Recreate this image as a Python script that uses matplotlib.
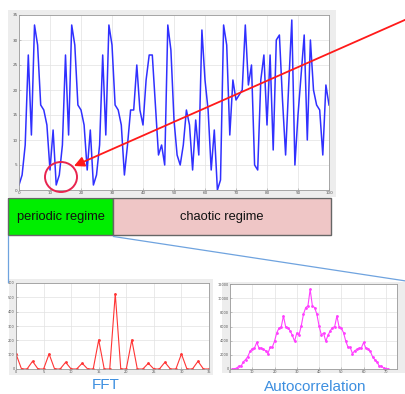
import matplotlib
matplotlib.use("Agg")
import matplotlib.pyplot as plt
from matplotlib.patches import Rectangle, Ellipse

# ---------------- data ----------------
series_x = list(range(0, 101))
series_y = [1, 3, 9, 27, 11, 33, 29, 17, 16, 13, 4, 12,
            1, 3, 9, 27, 11, 33, 29, 17, 16, 13, 4, 12,
            1, 3, 9, 27, 11, 33, 29, 17, 16, 13,
            3, 9, 16, 16, 25, 16, 13, 22, 27, 27, 17, 7, 9, 5, 33, 28, 14,
            7, 5, 9, 16, 13, 4, 14, 7, 32, 22, 16, 4, 12, 0, 2, 33, 29, 11,
            22, 18, 19, 20, 33, 21, 25, 5, 4, 22, 27, 13, 27, 8, 30, 31, 18,
            7, 21, 34, 5, 15, 23, 31, 10, 30, 20, 17, 16, 7, 21, 17]

fft_x = list(range(0, 36))
fft_y = [105, 0, 0, 54, 0, 0, 105, 0, 0, 47, 0, 0, 40, 0, 0, 203, 0, 0,
         525, 0, 0, 203, 0, 0, 40, 0, 0, 47, 0, 0, 105, 0, 0, 54, 0, 0]

acf_x = list(range(1, 72))
acf_half = [12, 40, 133, 415, 422, 1015, 1328, 1755, 2492, 2865, 2963, 3745,
            2987, 2945, 2758, 2585, 2172, 3045, 3078, 3925, 5117, 5770, 5938, 7490,
            5962, 5850, 5383, 4755, 3922, 5075, 4828, 6095, 7742, 8675, 8913]
acf_peak = 11235
acf_y = acf_half + [acf_peak] + acf_half[::-1]

regime_labels = ["periodic regime", "chaotic regime"]
panel_titles = ["FFT", "Autocorrelation"]

# ---------------- figure ----------------
W, H = 406, 394
fig = plt.figure(figsize=(W / 100, H / 100), dpi=100)
fig.patch.set_facecolor("white")


def rect(x0, y0, x1, y1):
    return [x0 / W, 1 - y1 / H, (x1 - x0) / W, (y1 - y0) / H]


# background layer (gray figure panels)
bg = fig.add_axes([0, 0, 1, 1], zorder=0)
bg.set_xlim(0, W)
bg.set_ylim(H, 0)
bg.axis("off")
for (x0, y0, x1, y1) in [(8, 10, 336, 197), (9, 279, 213, 375), (222, 282, 405, 373)]:
    bg.add_patch(Rectangle((x0, y0), x1 - x0, y1 - y0, facecolor="#ededed",
                           edgecolor="none"))


def style_axes(ax):
    ax.set_facecolor("white")
    for s in ax.spines.values():
        s.set_color("#9a9a9a")
        s.set_linewidth(0.6)
    ax.grid(True, color="#e2e2e2", linewidth=0.5)
    ax.set_axisbelow(True)
    ax.tick_params(direction="in", length=1.5, width=0.4, labelsize=3,
                   colors="#9a9a9a", labelcolor="#555555", pad=1)


# main time series
ax = fig.add_axes(rect(19, 15, 329, 190), zorder=1)
ax.plot(series_x, series_y, color="#3030ff", linewidth=1.1)
ax.set_xlim(0, 100)
ax.set_ylim(0, 35)
ax.set_xticks(range(0, 101, 10))
ax.set_yticks(range(0, 36, 5))
style_axes(ax)

# FFT panel
axf = fig.add_axes(rect(16, 283, 209, 369), zorder=1)
axf.plot(fft_x, fft_y, color="#ff3535", linewidth=0.8, marker="o",
         markersize=1.0)
axf.set_xlim(0, 35)
axf.set_ylim(0, 600)
axf.set_xticks(range(0, 36, 5))
axf.set_yticks(range(0, 601, 100))
style_axes(axf)
axf.tick_params(labelsize=2.5)

# Autocorrelation panel
axa = fig.add_axes(rect(230, 284, 397, 369), zorder=1)
axa.plot(acf_x, acf_y, color="#ff40ff", linewidth=0.8, marker="o",
         markersize=1.0)
axa.set_xlim(0, 75)
axa.set_ylim(0, 12000)
axa.set_xticks(range(0, 71, 10))
axa.set_yticks(range(0, 12001, 2000))
style_axes(axa)
axa.tick_params(labelsize=2.5)

# overlay layer
ov = fig.add_axes([0, 0, 1, 1], zorder=5)
ov.set_xlim(0, W)
ov.set_ylim(H, 0)
ov.axis("off")
ov.patch.set_alpha(0)

# regime boxes
ov.add_patch(Rectangle((8, 198), 105.5, 37, facecolor="#00ee00",
                       edgecolor="#666666", linewidth=1.0))
ov.add_patch(Rectangle((113.5, 198), 217.5, 37, facecolor="#efc6c6",
                       edgecolor="#666666", linewidth=1.0))
ov.text(60.5, 217, regime_labels[0], ha="center", va="center",
        fontsize=9.3, family="Liberation Sans", color="#111111")
ov.text(222, 217, regime_labels[1], ha="center", va="center",
        fontsize=9.3, family="Liberation Sans", color="#111111")

# connector lines
ov.plot([8, 8], [236, 282], color="#6fa3df", linewidth=0.9)
ov.plot([113.5, 406], [236.5, 281], color="#6fa3df", linewidth=0.9)

# panel titles
ov.text(106, 385, panel_titles[0], ha="center", va="center", fontsize=11,
        family="Liberation Sans", color="#3d8fe0")
ov.text(315, 387, panel_titles[1], ha="center", va="center", fontsize=11,
        family="Liberation Sans", color="#3d8fe0")

# circle and arrow
ov.add_patch(Ellipse((61, 177), 32, 30, facecolor="none",
                     edgecolor="#e8244f", linewidth=1.4))
ov.annotate("", xy=(74, 166), xytext=(407, 19),
            arrowprops=dict(arrowstyle="-|>,head_length=0.6,head_width=0.3",
                            color="#ff1a1a", linewidth=1.3,
                            shrinkA=0, shrinkB=0))

fig.savefig("out.png", dpi=100)
